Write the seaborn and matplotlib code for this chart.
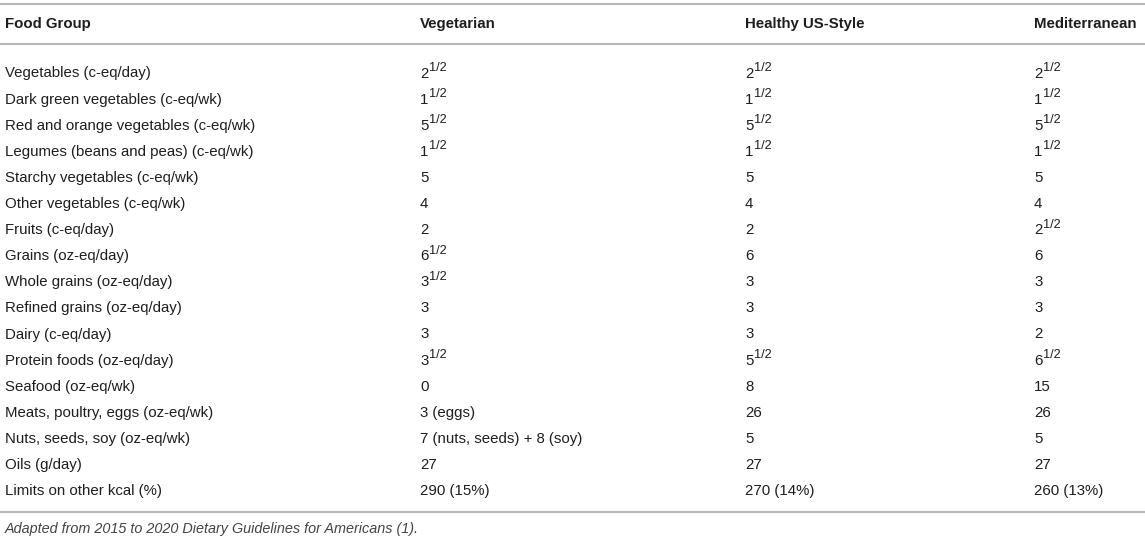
import re
import pandas as pd
import seaborn as sns
import matplotlib.pyplot as plt

food_groups = [
    "Vegetables (c-eq/day)",
    "Dark green vegetables (c-eq/wk)",
    "Red and orange vegetables (c-eq/wk)",
    "Legumes (beans and peas) (c-eq/wk)",
    "Starchy vegetables (c-eq/wk)",
    "Other vegetables (c-eq/wk)",
    "Fruits (c-eq/day)",
    "Grains (oz-eq/day)",
    "Whole grains (oz-eq/day)",
    "Refined grains (oz-eq/day)",
    "Dairy (c-eq/day)",
    "Protein foods (oz-eq/day)",
    "Seafood (oz-eq/wk)",
    "Meats, poultry, eggs (oz-eq/wk)",
    "Nuts, seeds, soy (oz-eq/wk)",
    "Oils (g/day)",
    "Limits on other kcal (%)",
]
vegetarian = ["2 1/2", "1 1/2", "5 1/2", "1 1/2", "5", "4", "2", "6 1/2",
              "3 1/2", "3", "3", "3 1/2", "0", "3 (eggs)",
              "7 (nuts, seeds) + 8 (soy)", "27", "290 (15%)"]
healthy_us = ["2 1/2", "1 1/2", "5 1/2", "1 1/2", "5", "4", "2", "6",
              "3", "3", "3", "5 1/2", "8", "26", "5", "27", "270 (14%)"]
mediterranean = ["2 1/2", "1 1/2", "5 1/2", "1 1/2", "5", "4", "2 1/2", "6",
                 "3", "3", "2", "6 1/2", "15", "26", "5", "27", "260 (13%)"]
headers = ["Food Group", "Vegetarian", "Healthy US-Style", "Mediterranean"]
caption = "Adapted from 2015 to 2020 Dietary Guidelines for Americans (1)."

df = pd.DataFrame({headers[0]: food_groups, headers[1]: vegetarian,
                   headers[2]: healthy_us, headers[3]: mediterranean})

sns.set_theme(style="white")
plt.rcParams['font.family'] = ['Liberation Sans', 'DejaVu Sans']

fig = plt.figure(figsize=(11.45, 5.40), dpi=100)
ax = fig.add_axes([0, 0, 1, 1])
ax.set_xlim(0, 1145)
ax.set_ylim(540, 0)
ax.axis('off')

col_x = [5, 420, 745, 1034]
txt_col = '#1e1e1e'
line_col = '#b8b8b8'
fs = 10.8
row0, row_h = 72, 26.1


def draw_cell(x, yb, v):
    m = re.fullmatch(r"(\d+) 1/2", v)
    if m is None:
        ax.text(x, yb, v, fontsize=fs, color=txt_col, va='baseline')
        return
    ax.text(x, yb, m.group(1), fontsize=fs, color=txt_col, va='baseline')
    # superscript half, digits are 0.556 em wide
    ax.annotate("1/2", (x, yb), xytext=(0.556 * fs * len(m.group(1)) + 0.2, 0.43 * fs),
                textcoords='offset points', fontsize=0.85 * fs, color=txt_col,
                va='baseline', ha='left')


# header
for x, h in zip(col_x, df.columns):
    ax.text(x, 28, h, fontsize=fs, fontweight='bold', color=txt_col, va='baseline')

for y in [4, 44]:
    ax.axhline(y, color=line_col, lw=1.5)

for i, row in df.iterrows():
    yb = row0 + i * row_h + 5.5
    for x, v in zip(col_x, row):
        draw_cell(x, yb, v)

ax.axhline(row0 + (len(df) - 1) * row_h + 22, color=line_col, lw=1.5)
ax.text(5, 533, caption, fontsize=10.4, style='italic', color='#444444', va='baseline')

fig.savefig('out.png', dpi=100)
